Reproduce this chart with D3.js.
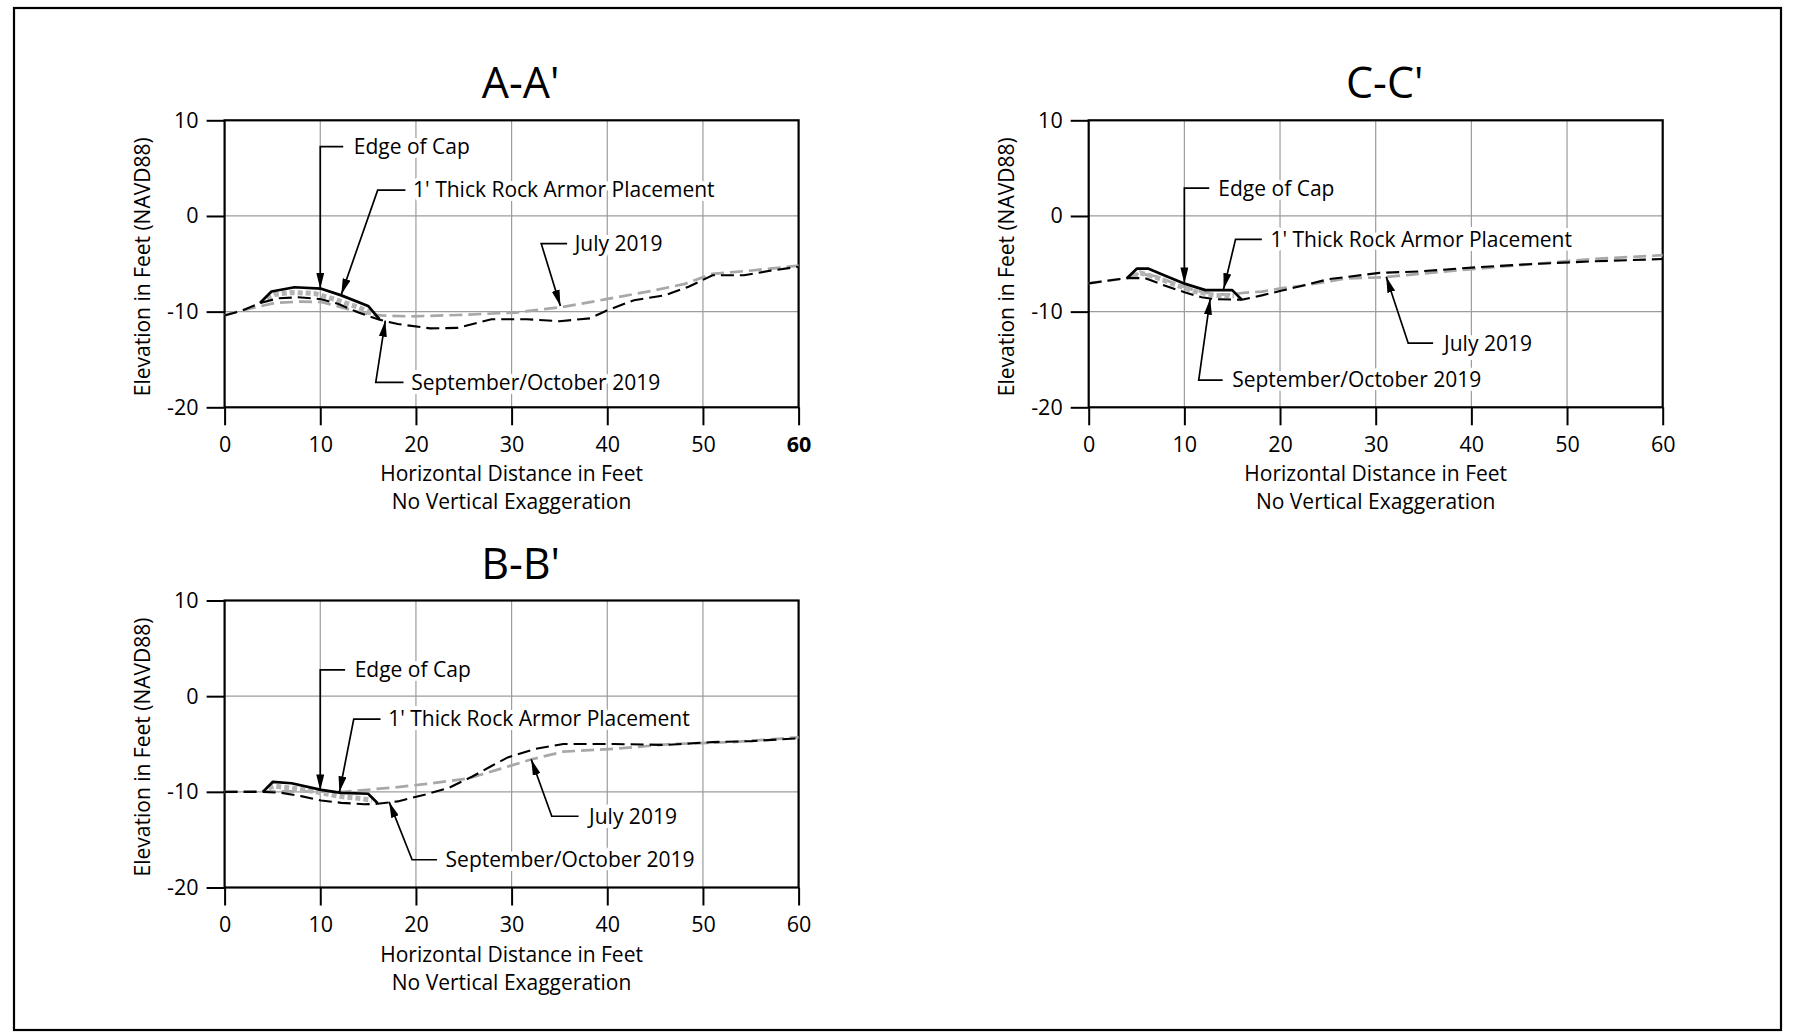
<!DOCTYPE html>
<html lang="en">
<head>
<meta charset="UTF-8">
<title>Cross Sections A-A', B-B', C-C'</title>
<script src="https://d3js.org/d3.v7.min.js"></script>
<style>
  body { margin: 0; background: #fff; font-family: 'Open Sans', sans-serif; }
  .grid line { stroke: #9c9c9c; stroke-width: 1.2px; }
  .axis path, .axis line { stroke: #000; stroke-width: 2px; }
  .axis text { font-family: 'Open Sans', sans-serif; font-size: 21.5px; fill: #000; }
  .frame { fill: none; stroke: #000; stroke-width: 2.2px; }
  .sep { fill: none; stroke: #000; stroke-width: 2.1px; stroke-dasharray: 13 6; }
  .july { fill: none; stroke: #a8a8a8; stroke-width: 2.7px; stroke-dasharray: 13 6; }
  .rock { fill: none; stroke: #b4b4b4; stroke-width: 5px; stroke-dasharray: 5 3; }
  .armor { fill: none; stroke: #000; stroke-width: 2.7px; stroke-linejoin: round; }
  .leader { fill: none; stroke: #000; stroke-width: 1.7px; }
  .note { font-size: 21px; fill: #000; paint-order: stroke; stroke: #fff; stroke-width: 8px; stroke-linejoin: round; }
  .title { font-size: 43px; text-anchor: middle; }
  .label { font-size: 21px; text-anchor: middle; }
</style>
</head>
<body>
<svg id="chart" width="1797" height="1032"></svg>
<script>
// ticks
const xTicks = [0, 10, 20, 30, 40, 50, 60];
const yTicks = [-20, -10, 0, 10];

// A-A' profiles [distance ft, elevation ft]
const sepA = [[0,-10.4],[1.8,-9.9],[3.7,-9.1],[5.6,-8.6],[7.7,-8.5],[10.1,-8.7],[11.9,-9.2],[14.0,-10.1],[16.2,-10.85],[18.1,-11.3],[21.5,-11.75],[24.3,-11.7],[27.9,-10.8],[31.6,-10.8],[35,-11.0],[38.2,-10.7],[39.9,-9.9],[42.8,-8.8],[46,-8.3],[48.5,-7.4],[51,-6.2],[54.3,-6.2],[57.2,-5.7],[60,-5.3]];
const julyA = [[0,-10.4],[0.7,-10.15],[2.8,-9.65],[5.2,-9.1],[8.0,-8.95],[10.1,-9.0],[12.2,-9.55],[14.6,-10.2],[16.4,-10.4],[19.5,-10.5],[24.4,-10.35],[30.4,-10.1],[35.4,-9.5],[39.9,-8.7],[44.8,-7.8],[48.1,-7.1],[51,-6.05],[55.1,-5.7],[60,-5.2]];
const armorA = [[3.7,-9.1],[4.9,-7.9],[7.3,-7.45],[10.1,-7.6],[12.2,-8.3],[15.0,-9.4],[16.2,-10.8]];
const rockA = [[4.4,-8.6],[5.2,-8.2],[7,-8.0],[9.4,-8.1],[11.5,-8.7],[14.0,-9.55],[15.5,-10.25]];

// B-B'
const sepB = [[0,-10.0],[4.0,-10.0],[5.9,-10.1],[8.0,-10.45],[10.1,-10.9],[12.2,-11.15],[14.6,-11.3],[16.0,-11.25],[18.1,-11.0],[20.9,-10.3],[23.4,-9.6],[25.9,-8.4],[27.9,-7.3],[29.6,-6.4],[32.5,-5.5],[35.4,-5.0],[40.7,-5.0],[46.1,-5.1],[51,-4.8],[55.1,-4.7],[60,-4.4]];
const julyB = [[0,-10.0],[4,-9.95],[8,-9.95],[12.5,-10.0],[15.3,-9.75],[18.1,-9.5],[20.9,-9.2],[25.5,-8.6],[28.8,-7.6],[32.1,-6.6],[35.4,-5.8],[40.7,-5.5],[46.8,-5.0],[53.1,-4.8],[60,-4.3]];
const armorB = [[4.0,-10.0],[5.05,-8.95],[7.0,-9.1],[10.1,-9.8],[12.2,-10.1],[15.0,-10.2],[16.0,-11.2]];
const rockB = [[4.6,-9.6],[5.2,-9.4],[7.7,-9.7],[10.1,-10.1],[12.2,-10.5],[14.3,-10.7],[15.4,-10.9]];

// C-C'
const sepC = [[0,-7.05],[2.1,-6.75],[4.0,-6.5],[5.9,-6.5],[8.0,-7.3],[10.1,-8.0],[11.8,-8.5],[13.2,-8.7],[16.0,-8.75],[18.1,-8.3],[20.2,-7.8],[22.3,-7.3],[25.1,-6.6],[30.4,-5.95],[34.5,-5.8],[40.7,-5.35],[46.8,-5.0],[52.6,-4.75],[60,-4.5]];
const julyC = [[0,-7.05],[2.1,-6.75],[4.0,-6.5],[5.2,-6.0],[7.0,-6.3],[9.1,-7.1],[11.1,-7.8],[13.2,-8.2],[15.0,-8.2],[16.0,-8.05],[18.1,-7.9],[20.2,-7.55],[22.3,-7.3],[25.1,-6.85],[26.7,-6.55],[30.8,-6.4],[34.5,-6.05],[40.7,-5.5],[46.8,-5.0],[52.6,-4.5],[60,-4.1]];
const armorC = [[4.0,-6.5],[5.05,-5.5],[6.2,-5.5],[8.0,-6.25],[10.1,-7.1],[12.2,-7.75],[15.0,-7.75],[16.0,-8.75]];
const rockC = [[4.6,-6.3],[5.4,-5.95],[7.0,-6.4],[9.1,-7.2],[11.1,-7.9],[13.2,-8.3],[15.2,-8.35]];

// annotation labels and the profile point each arrow points at
const noteLabels = ["Edge of Cap", "1' Thick Rock Armor Placement", "July 2019", "September/October 2019"];
const tipsA = [[10, -7.6], [12.2, -8.2], [35.1, -9.4], [16.8, -10.95]];
const tipsB = [[10, -9.85], [12.0, -10.05], [32.05, -6.6], [17.2, -11.05]];
const tipsC = [[10, -7.05], [14.1, -7.65], [31.1, -6.35], [12.7, -8.65]];

const W = 574, H = 287;
const svg = d3.select("#chart");

svg.append("defs").append("marker")
  .attr("id", "arrow")
  .attr("markerUnits", "userSpaceOnUse")
  .attr("viewBox", "0 0 16 8")
  .attr("markerWidth", 16).attr("markerHeight", 8)
  .attr("refX", 16).attr("refY", 4)
  .attr("orient", "auto")
  .append("path").attr("d", "M0,0L16,4L0,8Z").attr("fill", "#000");

svg.append("rect").attr("class", "frame")
  .attr("x", 14).attr("y", 8).attr("width", 1767).attr("height", 1022);

// label layout per panel, in data units: [text x, text y, leader start x, elbow x]
const panels = [
  { title: "A-A'", left: 224.6, top: 120.3, sep: sepA, july: julyA, armor: armorA, rock: rockA, tips: tipsA, boldLast: true,
    notes: [[13.5, 7.25, 12.4, 10], [19.7, 2.7, 18.9, 16.0], [36.6, -2.9, 35.8, 33.1], [19.5, -17.4, 18.7, 15.8]] },
  { title: "B-B'", left: 224.6, top: 600.5, sep: sepB, july: julyB, armor: armorB, rock: rockB, tips: tipsB,
    notes: [[13.6, 2.75, 12.6, 10], [17.1, -2.4, 16.3, 13.5], [38.1, -12.55, 37.0, 34.2], [23.1, -17.1, 22.2, 19.6]] },
  { title: "C-C'", left: 1088.7, top: 120.3, sep: sepC, july: julyC, armor: armorC, rock: rockC, tips: tipsC,
    notes: [[13.55, 2.9, 12.6, 10], [19.0, -2.45, 18.1, 15.35], [37.15, -13.3, 36.0, 33.4], [15.0, -17.15, 14.0, 11.5]] }
];

panels.forEach(drawPanel);

function drawPanel(p) {
  const x = d3.scaleLinear().domain([0, 60]).range([p.left, p.left + W]);
  const y = d3.scaleLinear().domain([-20, 10]).range([p.top + H, p.top]);
  const g = svg.append("g");

  // grid
  const grid = g.append("g").attr("class", "grid");
  grid.selectAll(".gx").data(xTicks.slice(1, -1)).join("line")
    .attr("x1", d => x(d)).attr("x2", d => x(d)).attr("y1", y(10)).attr("y2", y(-20));
  grid.selectAll(".gy").data(yTicks.slice(1, -1)).join("line")
    .attr("x1", x(0)).attr("x2", x(60)).attr("y1", d => y(d)).attr("y2", d => y(d));

  // axes (plain hyphen for negatives, as in the drawing)
  const fmt = d => String(d);
  const xa = g.append("g").attr("class", "axis")
    .attr("transform", `translate(0,${y(-20)})`)
    .call(d3.axisBottom(x).tickValues(xTicks).tickFormat(fmt).tickSize(18).tickSizeOuter(0).tickPadding(11));
  if (p.boldLast) xa.selectAll(".tick text").filter(d => d === 60).style("font-weight", "bold");
  g.append("g").attr("class", "axis")
    .attr("transform", `translate(${x(0)},0)`)
    .call(d3.axisLeft(y).tickValues(yTicks).tickFormat(fmt).tickSize(18).tickSizeOuter(0).tickPadding(8));
  g.selectAll(".axis .domain").remove();

  g.append("rect").attr("class", "frame")
    .attr("x", x(0)).attr("y", y(10)).attr("width", x(60) - x(0)).attr("height", y(-20) - y(10));

  // profiles
  const line = d3.line().x(d => x(d[0])).y(d => y(d[1]));
  g.append("path").datum(p.july).attr("class", "july").attr("d", line);
  g.append("path").datum(p.rock).attr("class", "rock").attr("d", line);
  g.append("path").datum(p.sep).attr("class", "sep").attr("d", line);
  g.append("path").datum(p.armor).attr("class", "armor").attr("d", line);

  // annotations
  p.notes.forEach((n, i) => {
    const tip = p.tips[i];
    g.append("path").attr("class", "leader")
      .attr("marker-end", "url(#arrow)")
      .attr("d", d3.line()([[x(n[2]), y(n[1])], [x(n[3]), y(n[1])], [x(tip[0]), y(tip[1])]]));
    g.append("text").attr("class", "note")
      .attr("x", x(n[0])).attr("y", y(n[1])).attr("dy", "0.35em")
      .text(noteLabels[i]);
  });

  // titles and axis labels
  const cx = (x(0) + x(60)) / 2;
  g.append("text").attr("class", "title").attr("x", cx + 9).attr("y", p.top - 22).text(p.title);
  g.append("text").attr("class", "label").attr("x", cx).attr("y", y(-20) + 74).text("Horizontal Distance in Feet");
  g.append("text").attr("class", "label").attr("x", cx).attr("y", y(-20) + 102).text("No Vertical Exaggeration");
  g.append("text").attr("class", "label")
    .attr("transform", `translate(${x(0) - 82},${(y(10) + y(-20)) / 2 + 3}) rotate(-90)`)
    .attr("dy", "0.35em")
    .text("Elevation in Feet (NAVD88)");
}
</script>
</body>
</html>
